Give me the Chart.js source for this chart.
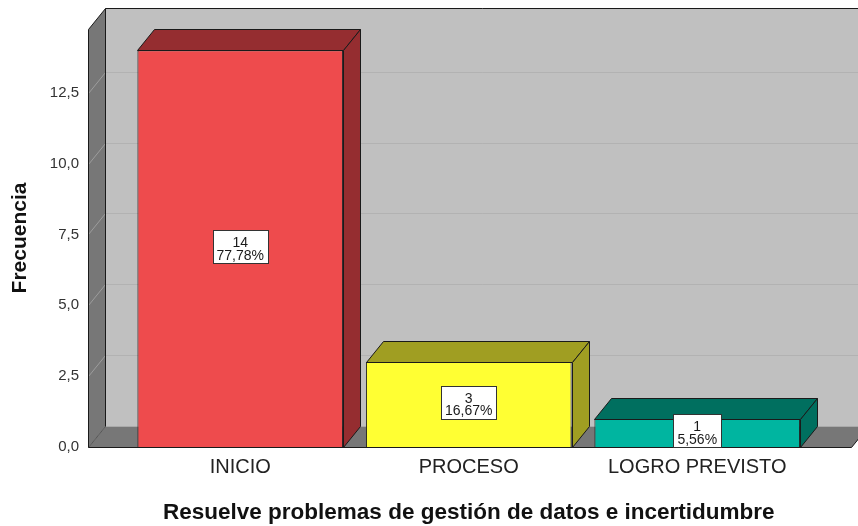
<!DOCTYPE html>
<html>
<head>
<meta charset="utf-8">
<script src="https://cdn.jsdelivr.net/npm/chart.js@4/dist/chart.umd.min.js"></script>
<style>
  html, body { margin: 0; padding: 0; background: #ffffff; }
  #c { display: block; }
</style>
</head>
<body>
<canvas id="c" width="858" height="526"></canvas>
<script>
// Frequency counts per achievement level
const categories = ['INICIO', 'PROCESO', 'LOGRO PREVISTO'];
const counts = [14, 3, 1];
const frontColors = ['#ee4b4d', '#ffff33', '#00b5a0'];
const shadeColors = ['#952d30', '#a09e22', '#006f5f'];
const yTicks = [0, 2.5, 5, 7.5, 10, 12.5];
const yMax = 14.75;
const xTitle = 'Resuelve problemas de gestión de datos e incertidumbre';
const yTitle = 'Frecuencia';

const FONT = '"Liberation Sans", Arial, Helvetica, sans-serif';
const total = counts.reduce((a, b) => a + b, 0);
const fmtPct = v => (v / total * 100).toFixed(2).replace('.', ',') + '%';

// 3D look: depth vector shared by walls and bars
const DEPTH = { dx: 17, dy: -21 };
const WALL_GAP_LEFT = 38;
const WALL_GAP_RIGHT = 40;
// plot box (front plane of the bars)
const AREA = { top: 29, bottom: 447, left: 126, right: 811.5 };

function poly(ctx, pts, fill, stroke) {
  ctx.beginPath();
  ctx.moveTo(pts[0][0], pts[0][1]);
  for (let i = 1; i < pts.length; i++) ctx.lineTo(pts[i][0], pts[i][1]);
  ctx.closePath();
  if (fill) { ctx.fillStyle = fill; ctx.fill(); }
  if (stroke) { ctx.strokeStyle = stroke; ctx.lineWidth = 1; ctx.stroke(); }
}
function line(ctx, x1, y1, x2, y2, color) {
  ctx.beginPath();
  ctx.moveTo(x1, y1);
  ctx.lineTo(x2, y2);
  ctx.strokeStyle = color;
  ctx.lineWidth = 1;
  ctx.stroke();
}

const box3d = {
  id: 'box3d',
  beforeDatasetsDraw(chart) {
    const { ctx, chartArea: a, scales: { y } } = chart;
    const { dx, dy } = DEPTH;
    const L = Math.round(a.left - WALL_GAP_LEFT) + 0.5;
    const R = a.right + WALL_GAP_RIGHT;
    const top = Math.round(y.getPixelForValue(yMax)) + 0.5;
    const bot = Math.round(y.getPixelForValue(0)) + 0.5;
    ctx.save();
    // back wall
    poly(ctx, [[L + dx, top + dy], [R + dx, top + dy], [R + dx, bot + dy], [L + dx, bot + dy]], '#c0c0c0');
    // left wall
    poly(ctx, [[L, bot], [L, top], [L + dx, top + dy], [L + dx, bot + dy]], '#777777');
    // floor
    poly(ctx, [[L, bot], [R, bot], [R + dx, bot + dy], [L + dx, bot + dy]], '#777777');
    // grid lines on the walls
    yTicks.forEach(v => {
      if (v === 0) return;
      const py = Math.round(y.getPixelForValue(v)) + 0.5;
      line(ctx, L, py, L + dx, py + dy, '#9d9d9d');
      line(ctx, L + dx, py + dy, R + dx, py + dy, '#b2b2b2');
    });
    // edges
    line(ctx, L, bot, L + dx, bot + dy, '#555555');
    line(ctx, L, top, L, bot, '#1a1a1a');
    line(ctx, L + dx, top + dy, L + dx, bot + dy, '#1a1a1a');
    line(ctx, L, top, L + dx, top + dy, '#1a1a1a');
    line(ctx, L + dx, top + dy, R + dx, top + dy, '#1a1a1a');
    line(ctx, L, bot, R, bot, '#1a1a1a');
    line(ctx, R, bot, R + dx, bot + dy, '#1a1a1a');
    ctx.restore();
  },
  afterDatasetsDraw(chart) {
    const { ctx, scales: { y } } = chart;
    const { dx, dy } = DEPTH;
    const meta = chart.getDatasetMeta(0);
    ctx.save();
    meta.data.forEach((bar, i) => {
      const p = bar.getProps(['x', 'y', 'base', 'width'], true);
      const l = Math.round(p.x - p.width / 2) + 0.5;
      const r = Math.round(p.x + p.width / 2) + 0.5;
      const t = Math.round(p.y) + 0.5;
      const b = Math.round(p.base) + 0.5;
      // top face
      poly(ctx, [[l, t], [l + dx, t + dy], [r + dx, t + dy], [r, t]], shadeColors[i], '#1a1a1a');
      // side face
      poly(ctx, [[r, t], [r + dx, t + dy], [r + dx, b + dy], [r, b]], shadeColors[i], '#1a1a1a');
    });
    // value boxes: count and share
    ctx.font = '14px ' + FONT;
    meta.data.forEach((bar, i) => {
      const l1 = String(counts[i]);
      const l2 = fmtPct(counts[i]);
      const w = Math.round(Math.max(ctx.measureText(l1).width, ctx.measureText(l2).width) + 8);
      const h = 33;
      const cx = bar.x;
      const cy = y.getPixelForValue(counts[i] / 2) - 2;
      const bx = Math.round(cx - w / 2) + 0.5;
      const by = Math.round(cy - h / 2) + 0.5;
      ctx.fillStyle = '#ffffff';
      ctx.fillRect(bx, by, w, h);
      ctx.strokeStyle = '#333333';
      ctx.lineWidth = 1;
      ctx.strokeRect(bx, by, w, h);
      ctx.fillStyle = '#1a1a1a';
      ctx.textAlign = 'center';
      ctx.textBaseline = 'alphabetic';
      ctx.fillText(l1, cx, cy + 0.5);
      ctx.fillText(l2, cx, cy + 13);
    });
    ctx.restore();
  }
};

new Chart(document.getElementById('c'), {
  type: 'bar',
  data: {
    labels: categories,
    datasets: [{
      data: counts,
      backgroundColor: frontColors,
      borderColor: '#1a1a1a',
      borderWidth: 1,
      categoryPercentage: 1,
      barPercentage: 0.9
    }]
  },
  options: {
    responsive: false,
    animation: false,
    devicePixelRatio: 1,
    layout: { padding: { top: AREA.top, right: 858 - AREA.right, bottom: 0, left: 0 } },
    plugins: { legend: { display: false }, tooltip: { enabled: false } },
    scales: {
      x: {
        grid: { display: false, drawTicks: false },
        border: { display: false },
        ticks: { color: '#222222', font: { family: FONT, size: 20 }, padding: 8, maxRotation: 0, autoSkip: false },
        title: { display: true, text: xTitle, color: '#111111', font: { family: FONT, size: 22.5, weight: 'bold' }, padding: { top: 0, bottom: 0 } },
        afterFit(s) { s.height = 526 - AREA.bottom; }
      },
      y: {
        min: 0,
        max: yMax,
        grid: { display: false, drawTicks: false },
        border: { display: false },
        afterBuildTicks(s) { s.ticks = yTicks.map(v => ({ value: v })); },
        ticks: { color: '#333333', font: { family: FONT, size: 15 }, padding: 47, callback: v => Number(v).toFixed(1).replace('.', ',') },
        title: { display: true, text: yTitle, color: '#111111', font: { family: FONT, size: 21, weight: 'bold' }, padding: { top: 8, bottom: 0 } },
        afterFit(s) {
          s.width = AREA.left;
          // the wide label gap should not push the plot box down
          s.paddingTop = 0;
          s.paddingBottom = 0;
        }
      }
    }
  },
  plugins: [box3d]
});
</script>
</body>
</html>
